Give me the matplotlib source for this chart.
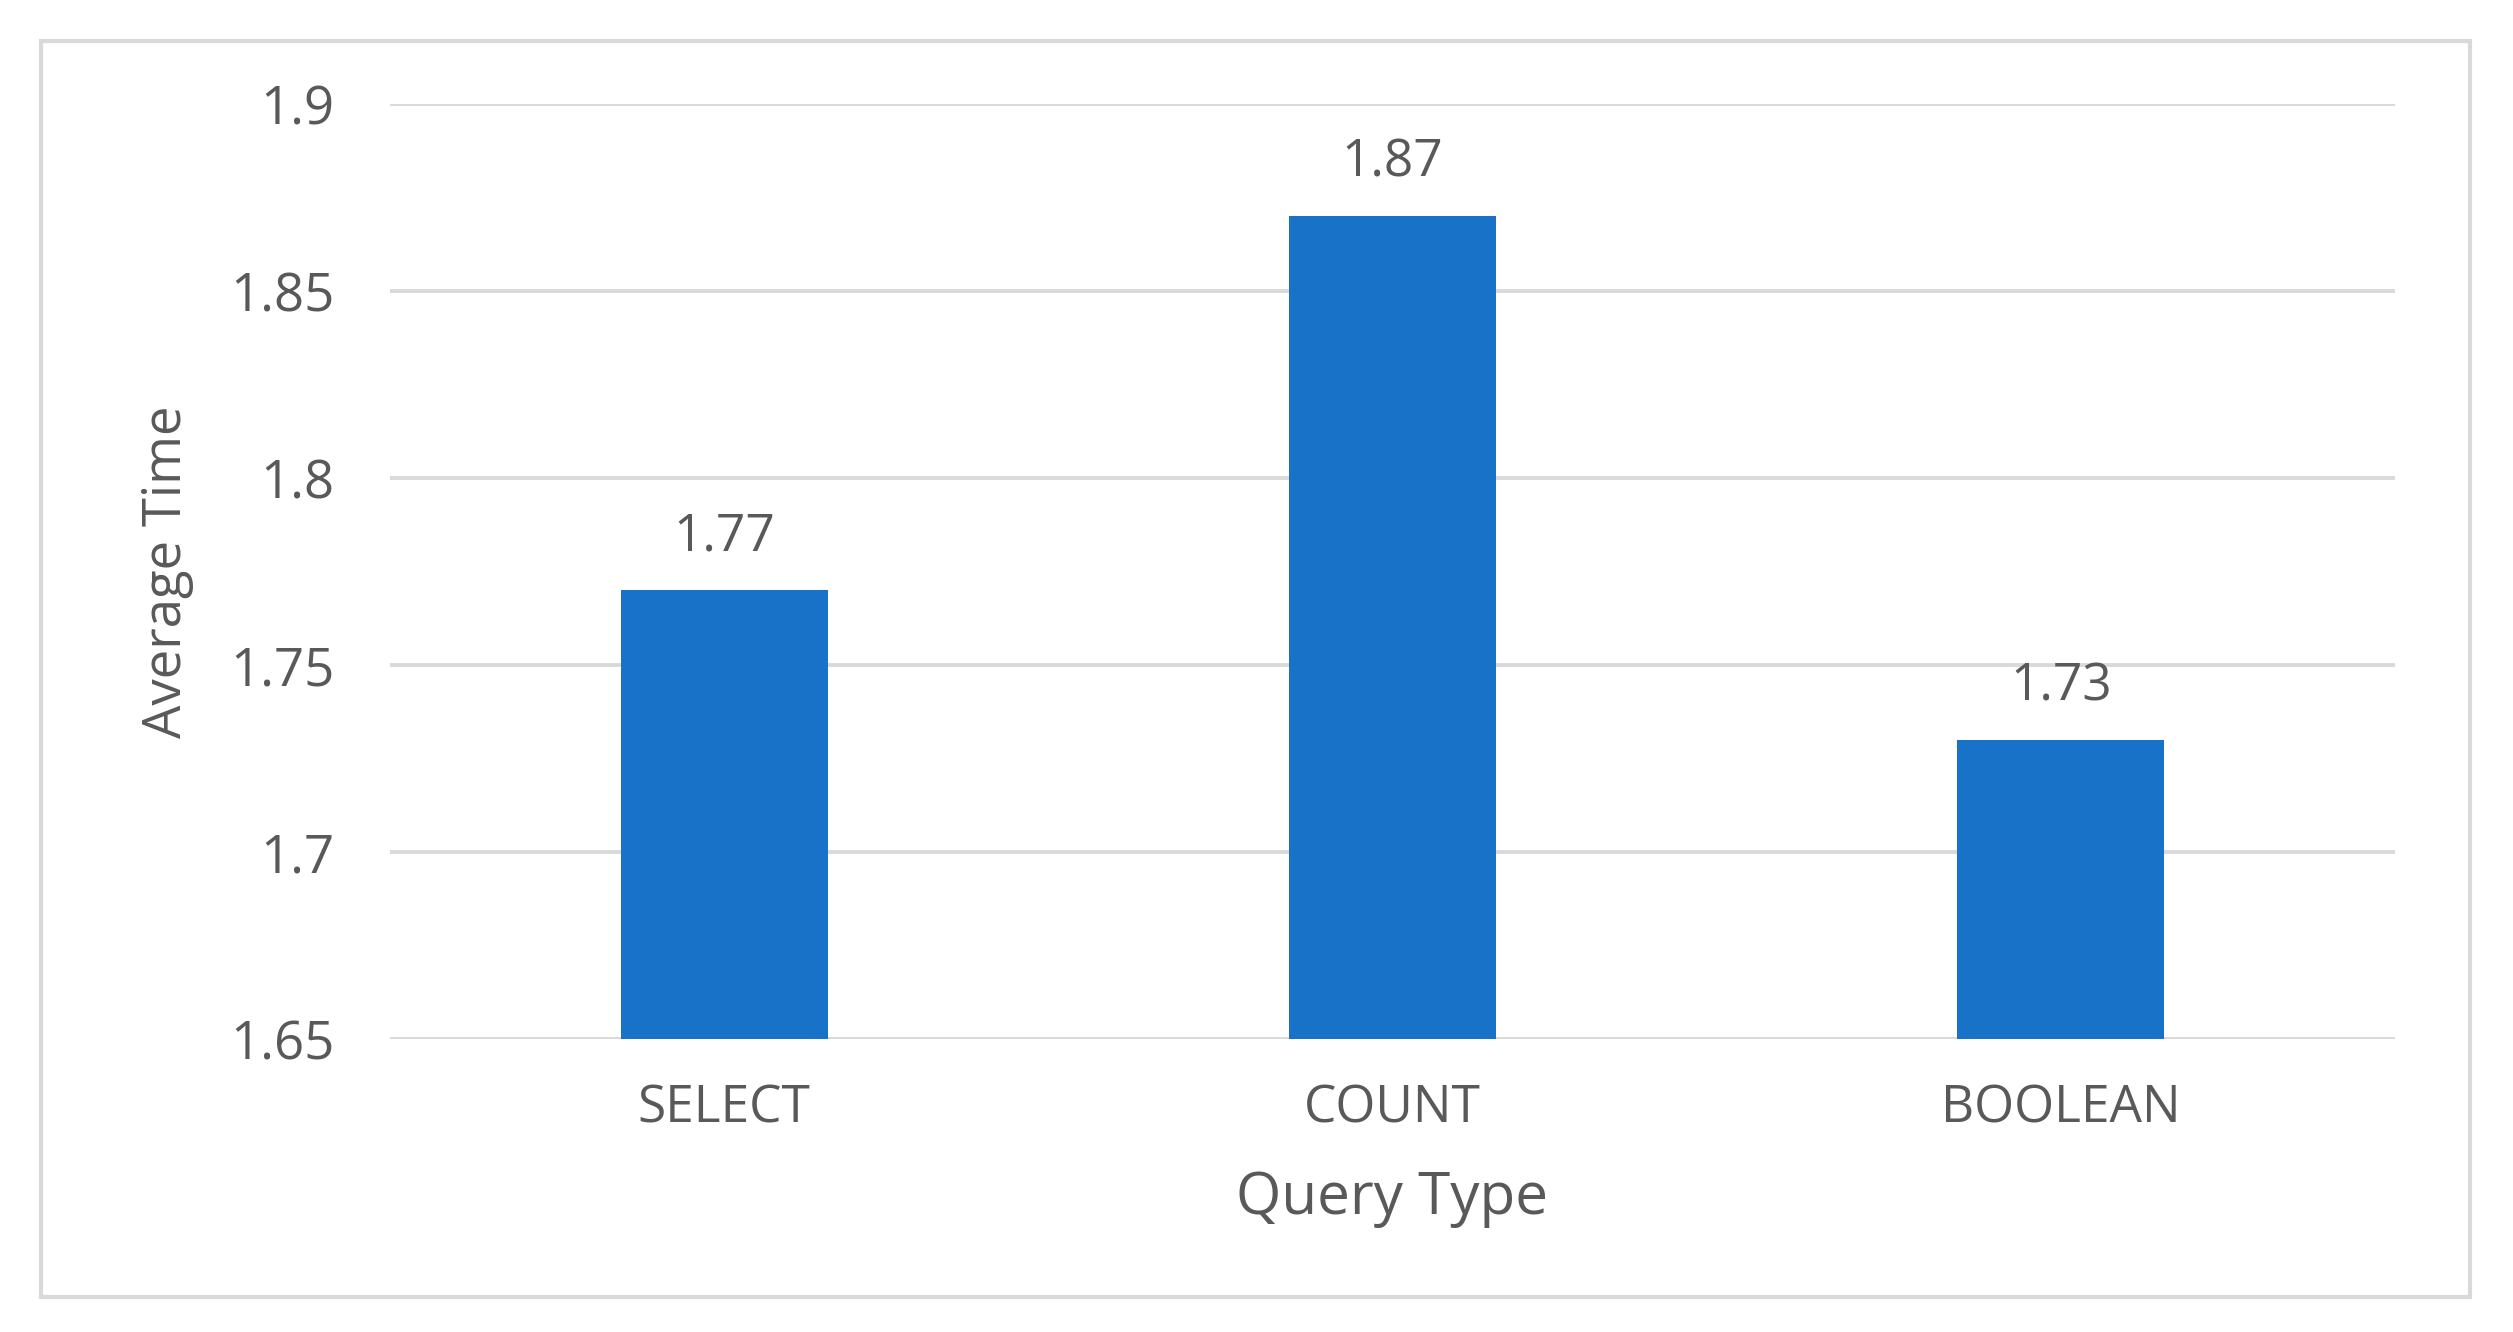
import matplotlib
matplotlib.use("Agg")
import matplotlib.pyplot as plt
from matplotlib.patches import Rectangle

categories = ["SELECT", "COUNT", "BOOLEAN"]
values = [1.77, 1.87, 1.73]
yticks = [1.65, 1.7, 1.75, 1.8, 1.85, 1.9]
ytick_labels = ["1.65", "1.7", "1.75", "1.8", "1.85", "1.9"]

plt.rcParams['font.family'] = ['Open Sans', 'DejaVu Sans']
text_color = '#595959'
grid_color = '#d9d9d9'
bar_color = '#1772C8'

fig = plt.figure(figsize=(25.13, 13.32), dpi=100)
fig.patch.set_facecolor('white')

# outer border
fig.patches.append(Rectangle((41/2513, 1 - 1297/1332), (2470-41)/2513, (1297-41)/1332,
                             transform=fig.transFigure, fill=False,
                             edgecolor=grid_color, linewidth=3))

ax = fig.add_axes([390/2513, 1 - 1039/1332, (2395-390)/2513, (1039-104)/1332])
x = list(range(len(categories)))
bars = ax.bar(x, values, width=0.31, bottom=0, color=bar_color, zorder=3)
ax.set_xlim(-0.5, len(categories) - 0.5)
ax.set_ylim(1.65, 1.9)
ax.set_yticks(yticks)
ax.set_yticklabels(ytick_labels)
ax.set_xticks(x)
ax.set_xticklabels(categories)

for s in ax.spines.values():
    s.set_visible(False)
ax.tick_params(axis='both', length=0, colors=text_color)
ax.tick_params(axis='y', pad=40, labelsize=38)
ax.tick_params(axis='x', pad=32, labelsize=37)
ax.grid(axis='y', color=grid_color, linewidth=2.8, zorder=0)
ax.set_axisbelow(True)

for xi, v in zip(x, values):
    ax.annotate(f"{v:.2f}", (xi, v), xytext=(0, 20), textcoords='offset points',
                ha='center', va='bottom', fontsize=37, color=text_color)

ax.set_xlabel("Query Type", fontsize=42, color=text_color, labelpad=25)
ax.set_ylabel("Average Time", fontsize=38, color=text_color, labelpad=26)

fig.savefig("out.png", dpi=100, facecolor='white')
